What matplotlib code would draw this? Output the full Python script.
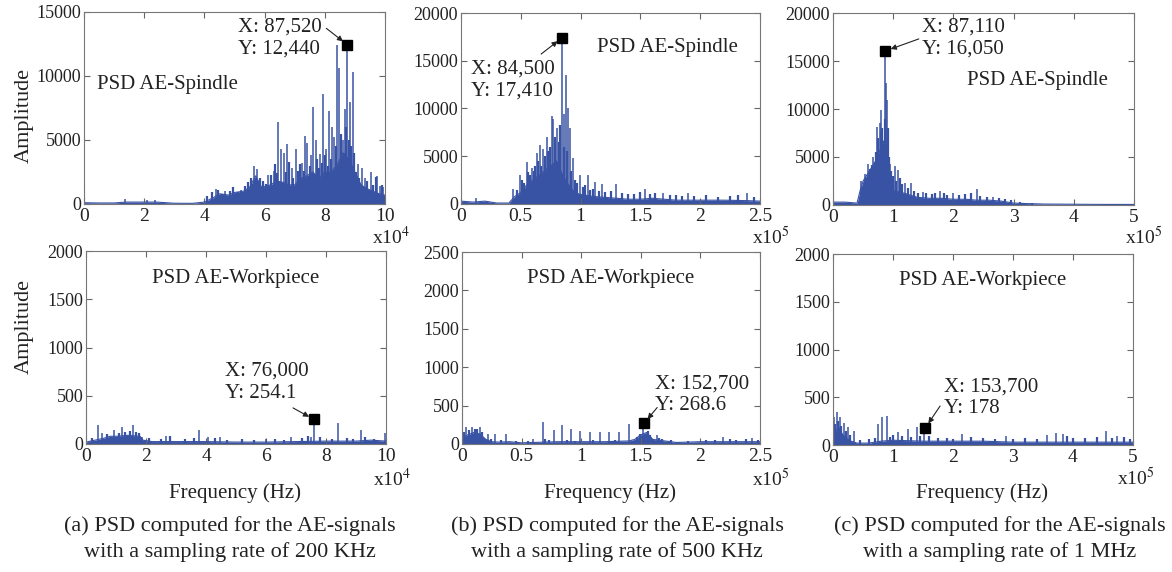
import matplotlib
matplotlib.use("Agg")
import matplotlib.pyplot as plt

plt.rcParams['font.family'] = ['Liberation Serif', 'DejaVu Serif']
plt.rcParams['mathtext.fontset'] = 'stix'

BLUE = '#3953a4'
LIGHT = '#a9b8de'
INK = '#222222'

# ---- (a) 200 KHz, spindle ----
a_top_floor_f = [0, 5000, 10000, 14000, 20000, 24000, 30000, 36000, 40000, 43000, 45000, 48000,
                 50000, 53000, 55000, 57000, 59000, 62000, 64000, 66000, 68000, 70000, 72000,
                 74000, 76000, 78000, 80000, 82000, 84000, 86000, 88000, 90000, 92000, 94000,
                 96000, 98000, 100000]
a_top_floor_a = [100, 80, 80, 150, 150, 150, 60, 50, 150, 500, 800, 700,
                 900, 1000, 1300, 2200, 1300, 1500, 1800, 1700, 1500, 1500, 2000,
                 2200, 2500, 2000, 2500, 2500, 3000, 4000, 3500, 2500, 1500, 1200,
                 1000, 800, 700]
a_top_spk_f = [13500, 21000, 23500, 44000, 47000, 52000, 56500, 57500, 61000, 63000, 64600,
               65500, 66300, 67500, 69000, 70500, 72500, 73500, 74200, 75500, 76200, 77000,
               78500, 79500, 80500, 81500, 82500, 83200, 84100, 84700, 86000, 86800, 87520,
               88300, 89400, 91000, 92500, 93500, 95500, 97500, 98500, 99500]
a_top_spk_a = [400, 350, 300, 1200, 1000, 1100, 3000, 2700, 2300, 2600, 6400,
               4300, 4000, 4700, 2800, 4300, 3200, 5300, 4800, 3800, 7600, 5000,
               3900, 8600, 4300, 7300, 6000, 5200, 12400, 10600, 5000, 7400, 12100,
               8000, 10300, 3100, 2800, 2000, 2500, 2200, 1400, 1300]
a_top_minor_f = [41000, 42500, 44500, 46000, 48500, 49500, 51000, 53500, 54500, 55500, 58500,
                 59500, 60500, 62000, 63500, 64000, 67000, 68000, 69500, 71000, 71700, 72000,
                 73000, 75000, 77500, 78000, 79000, 80000, 81000, 82000, 83700, 85300, 86300,
                 87000, 88000, 88800, 89800, 90500, 91500, 94000, 96000, 97000, 99000]
a_top_minor_a = [600, 900, 1100, 800, 1000, 1300, 900, 1400, 1700, 2000, 2000,
                 1800, 1600, 2300, 3100, 2400, 2500, 3300, 2000, 2600, 3100, 2000,
                 2600, 3000, 3500, 2800, 3200, 3800, 3000, 3500, 4500, 5500, 4000,
                 6000, 5000, 4500, 4000, 2500, 2000, 1800, 1500, 2100, 1500]

# ---- (b) 500 KHz, spindle ----
b_top_floor_f = [0, 10000, 20000, 30000, 40000, 45000, 50000, 55000, 60000, 65000, 70000, 75000,
                 80000, 85000, 90000, 95000, 100000, 110000, 120000, 130000, 140000, 150000,
                 160000, 170000, 180000, 200000, 220000, 240000, 250000]
b_top_floor_a = [300, 200, 300, 100, 100, 800, 1200, 2000, 2500, 3000, 3500, 4000,
                 4500, 3000, 2000, 1200, 1000, 800, 700, 600, 500, 500,
                 600, 500, 400, 400, 400, 350, 300]
b_top_spk_f = [12500, 43800, 49300, 54900, 59000, 63300, 66000, 68800, 71600, 75800, 77200,
               80000, 84500, 85800, 87800, 89700, 91200, 93900, 99500, 106500, 112000,
               117600, 130000, 153800, 169200, 190000, 238800]
b_top_spk_a = [600, 1600, 3000, 4400, 3800, 5300, 6200, 5800, 7000, 9200, 8900,
               8000, 16900, 9400, 13500, 10100, 8000, 4800, 3000, 3000, 2300,
               2100, 2100, 1600, 1200, 1100, 1100]
b_top_minor_f = [47000, 51000, 52500, 56000, 57500, 61000, 62000, 64500, 67000, 70000, 72500,
                 74000, 78500, 82000, 83000, 86500, 88500, 92000, 95000, 97000, 102000, 104000,
                 108000, 110000, 115000, 120000, 125000, 135000, 140000, 145000, 150000, 158000,
                 162000, 175000, 180000, 185000, 195000, 205000, 215000, 225000, 232000, 245000]
b_top_minor_a = [1500, 2500, 2200, 3300, 3000, 3500, 4000, 4500, 4000, 5000, 5500,
                 6000, 7000, 6500, 8300, 6000, 5500, 3500, 2500, 2200, 1800, 2000,
                 1500, 1600, 1400, 1300, 1400, 1200, 1000, 1000, 1300, 1000,
                 1100, 900, 900, 800, 800, 900, 700, 800, 900, 700]

# ---- (c) 1 MHz, spindle ----
c_top_floor_f = [0, 20000, 40000, 45000, 50000, 60000, 70000, 80000, 87000, 90000, 95000,
                 100000, 120000, 140000, 160000, 180000, 200000, 220000, 240000, 260000,
                 280000, 300000, 320000, 350000, 400000, 450000, 500000]
c_top_floor_a = [300, 300, 200, 1500, 2500, 3500, 4500, 6000, 7000, 4000, 2000,
                 1500, 1200, 800, 700, 700, 600, 600, 500, 500,
                 400, 200, 150, 100, 80, 60, 60]
c_top_spk_f = [47100, 52700, 58200, 66500, 73200, 77600, 80400, 84300, 87110, 87600, 89800,
               94200, 102600, 108100, 119200, 130300, 149700, 177400, 199600, 238400, 266000]
c_top_spk_a = [2500, 3200, 4300, 5000, 8100, 8500, 9900, 6700, 15600, 12700, 10900,
               4300, 4100, 3600, 2300, 2300, 1400, 1500, 1200, 1700, 800]
c_top_minor_f = [48000, 55000, 62000, 64000, 69000, 71000, 75000, 79000, 82000, 86000, 91000,
                 93000, 97000, 100000, 105000, 111000, 115000, 125000, 135000, 142000, 155000,
                 165000, 170000, 185000, 190000, 210000, 220000, 230000, 245000, 255000, 275000,
                 285000, 295000, 310000, 330000]
c_top_minor_a = [1800, 2800, 3800, 4200, 4500, 5500, 7000, 7500, 8000, 9000, 8000,
                 5000, 3500, 3000, 2500, 2800, 2200, 1800, 1500, 1300, 1200,
                 1100, 1300, 1200, 1000, 1000, 1100, 1300, 900, 800, 700,
                 600, 500, 300, 250]

# ---- workpiece ----
a_bot_floor_f = [0, 3000, 6000, 8000, 10000, 14000, 18000, 19000, 22000, 30000, 40000, 50000,
                 60000, 70000, 80000, 90000, 95000, 100000]
a_bot_floor_a = [20, 40, 60, 80, 80, 90, 80, 40, 25, 25, 25, 20, 20, 25, 30, 30, 40, 30]
a_bot_spk_f = [3900, 5400, 9300, 12000, 15700, 18750, 26600, 37500, 40500, 44800, 60000,
               68400, 75000, 76000, 84000, 91800, 99700]
a_bot_spk_a = [197, 117, 145, 180, 197, 76, 83, 145, 76, 70, 48,
               76, 69, 197, 220, 145, 110]
a_bot_minor_f = [2000, 7000, 11000, 13000, 14500, 16500, 17500, 21000, 25000, 28000, 33000,
                 36000, 43000, 47000, 52000, 56000, 63000, 66000, 72000, 74000, 78000, 82000,
                 87000, 89000, 93000, 96000]
a_bot_minor_a = [60, 100, 110, 120, 130, 120, 110, 60, 50, 80, 50,
                 60, 60, 45, 50, 45, 50, 45, 60, 80, 70, 55,
                 60, 50, 70, 55]

b_bot_floor_f = [0, 5000, 10000, 15000, 20000, 25000, 30000, 40000, 50000, 60000, 80000, 100000,
                 120000, 140000, 145000, 150000, 155000, 160000, 170000, 180000, 200000, 250000]
b_bot_floor_a = [80, 120, 150, 130, 60, 30, 25, 30, 15, 20, 30, 30,
                 30, 40, 60, 120, 150, 60, 40, 20, 30, 30]
b_bot_spk_f = [3600, 8400, 15400, 21500, 28000, 37200, 59600, 67900, 76800, 83800, 91600,
               99200, 107000, 115400, 123700, 131600, 139700, 152200, 163500, 219000, 243000]
b_bot_spk_a = [226, 226, 226, 130, 130, 130, 60, 292, 183, 248, 200,
               174, 161, 161, 161, 161, 261, 196, 118, 96, 75]
b_bot_minor_f = [2000, 6000, 11000, 13000, 17000, 24000, 33000, 45000, 55000, 70000, 73000,
                 88000, 95000, 110000, 128000, 147000, 149000, 156000, 158000, 165000, 168000,
                 175000, 190000, 205000, 212000, 225000, 230000, 238000, 248000]
b_bot_minor_a = [150, 180, 200, 190, 150, 60, 50, 40, 40, 60, 50,
                 50, 45, 50, 50, 90, 130, 170, 120, 80, 70,
                 50, 40, 50, 55, 60, 50, 60, 50]

c_bot_floor_f = [0, 5000, 10000, 15000, 20000, 30000, 40000, 60000, 80000, 100000, 150000,
                 200000, 250000, 300000, 400000, 500000]
c_bot_floor_a = [100, 150, 180, 120, 80, 40, 20, 20, 40, 50, 40, 40, 40, 30, 30, 30]
c_bot_spk_f = [1700, 6700, 11100, 17800, 25000, 34500, 75200, 81800, 90800, 108600, 124200,
               139200, 151400, 215000, 289000, 356000, 371900, 384000, 455400, 473000]
c_bot_spk_a = [297, 350, 297, 234, 185, 150, 220, 297, 304, 140, 164,
               192, 122, 115, 94, 100, 122, 110, 147, 94]
c_bot_minor_f = [3000, 8000, 13000, 21000, 28000, 45000, 60000, 70000, 95000, 100000, 115000,
                 130000, 145000, 160000, 175000, 190000, 200000, 230000, 250000, 270000, 300000,
                 320000, 340000, 390000, 400000, 420000, 440000, 465000, 485000, 495000]
c_bot_minor_a = [220, 250, 200, 150, 100, 50, 60, 70, 80, 100, 90,
                 80, 90, 90, 70, 70, 60, 80, 70, 60, 60,
                 70, 60, 90, 70, 70, 80, 70, 80, 60]

# first-bin leakage at 0 Hz (drawn pale)
dc_top = [1500, 2000, 1600]
dc_bot = [1600, 2100, 1600]

x_max = [100000, 250000, 500000]
x_scale = [1e4, 1e5, 1e5]
x_exp = [4, 5, 5]
x_ticks = [[0, 2, 4, 6, 8, 10], [0, 0.5, 1, 1.5, 2, 2.5], [0, 1, 2, 3, 4, 5]]
x_ticklabels = [['0', '2', '4', '6', '8', '10'], ['0', '0.5', '1', '1.5', '2', '2.5'],
                ['0', '1', '2', '3', '4', '5']]
y_top_max = [15000, 20000, 20000]
y_top_ticks = [[0, 5000, 10000, 15000], [0, 5000, 10000, 15000, 20000], [0, 5000, 10000, 15000, 20000]]
y_bot_max = [2000, 2500, 2000]
y_bot_ticks = [[0, 500, 1000, 1500, 2000], [0, 500, 1000, 1500, 2000, 2500], [0, 500, 1000, 1500, 2000]]

top_marker = [(87520, 12440), (84500, 17410), (87110, 16050)]
top_marker_txt = ['X: 87,520\nY: 12,440', 'X: 84,500\nY: 17,410', 'X: 87,110\nY: 16,050']
bot_marker = [(76000, 254.1), (152700, 268.6), (153700, 178)]
bot_marker_txt = ['X: 76,000\nY: 254.1', 'X: 152,700\nY: 268.6', 'X: 153,700\nY: 178']

captions = ['(a) PSD computed for the AE-signals\nwith a sampling rate of 200 KHz',
            '(b) PSD computed for the AE-signals\nwith a sampling rate of 500 KHz',
            '(c) PSD computed for the AE-signals\nwith a sampling rate of 1 MHz']

top_data = [(a_top_floor_f, a_top_floor_a, a_top_spk_f, a_top_spk_a, a_top_minor_f, a_top_minor_a),
            (b_top_floor_f, b_top_floor_a, b_top_spk_f, b_top_spk_a, b_top_minor_f, b_top_minor_a),
            (c_top_floor_f, c_top_floor_a, c_top_spk_f, c_top_spk_a, c_top_minor_f, c_top_minor_a)]
bot_data = [(a_bot_floor_f, a_bot_floor_a, a_bot_spk_f, a_bot_spk_a, a_bot_minor_f, a_bot_minor_a),
            (b_bot_floor_f, b_bot_floor_a, b_bot_spk_f, b_bot_spk_a, b_bot_minor_f, b_bot_minor_a),
            (c_bot_floor_f, c_bot_floor_a, c_bot_spk_f, c_bot_spk_a, c_bot_minor_f, c_bot_minor_a)]

W, H = 1172, 572
fig = plt.figure(figsize=(W / 100, H / 100), dpi=100)

# axes boxes in pixels: left, top, right, bottom
top_boxes = [(84, 12, 385, 204), (461, 13, 760, 204), (833, 13, 1134, 205)]
bot_boxes = [(86, 251, 386, 444), (462, 252, 760, 444), (833, 254, 1133, 445)]

# layout of texts in axes fractions
top_txt_pos = [(0.51, 0.865), (0.033, 0.65), (0.296, 0.87)]
top_tail = [(0.805, 0.915), (0.268, 0.785), (0.285, 0.865)]
top_title_pos = [(0.043, 0.62), (0.455, 0.817), (0.445, 0.65)]
bot_txt_pos = [(0.463, 0.32), (0.648, 0.255), (0.37, 0.246)]
bot_tail = [(0.69, 0.187), (0.655, 0.19), (0.357, 0.204)]
mult_pos_top = [(372, 237), (752, 237), (1125, 237)]
mult_pos_bot = [(373, 479), (752, 479), (1117, 478)]


def make_ax(box):
    l, t, r, b = box
    return fig.add_axes([l / W, 1 - b / H, (r - l) / W, (b - t) / H])


def style(ax, i, ymax, yticks):
    ax.set_xlim(0, x_max[i])
    ax.set_ylim(0, ymax)
    ax.set_xticks([v * x_scale[i] for v in x_ticks[i]])
    ax.set_xticklabels(x_ticklabels[i])
    ax.set_yticks(yticks)
    ax.set_yticklabels([str(v) for v in yticks])
    ax.tick_params(direction='in', top=True, right=True, length=4, width=0.8,
                   labelsize=13, colors='#666666', labelcolor=INK, pad=2)
    ax.tick_params(axis='x', labelsize=14, pad=3)
    for s in ax.spines.values():
        s.set_color('#777777')
        s.set_linewidth(0.8)


def draw_spec(ax, data, dc):
    ff, fa, sf, sa, mf, ma = data
    ax.fill_between(ff, 0, fa, color=BLUE, lw=0)
    ax.plot(ff, fa, color=BLUE, lw=0.8)
    ax.vlines(mf, 0, ma, color=BLUE, lw=1.6)
    ax.vlines(sf, 0, sa, color=BLUE, lw=1.1)
    ax.vlines([0], 0, [dc], color=LIGHT, lw=1.5)


def mark(ax, xy, txt, txt_pos, tail):
    ax.plot([xy[0]], [xy[1]], 's', color='black', ms=6.5)
    ax.text(*txt_pos, txt, transform=ax.transAxes, fontsize=15,
            ha='left', va='center', color=INK, linespacing=1.2)
    ax.annotate('', xy=xy, xytext=tail, textcoords='axes fraction',
                arrowprops=dict(arrowstyle='-|>', color=INK, lw=0.8,
                                mutation_scale=8, shrinkA=0, shrinkB=4))


for i in range(3):
    ax = make_ax(top_boxes[i])
    draw_spec(ax, top_data[i], dc_top[i])
    style(ax, i, y_top_max[i], y_top_ticks[i])
    mark(ax, top_marker[i], top_marker_txt[i], top_txt_pos[i], top_tail[i])
    ax.text(*top_title_pos[i], 'PSD AE-Spindle', transform=ax.transAxes, fontsize=15,
            ha='left', va='center', color=INK)
    if i == 0:
        ax.set_ylabel('Amplitude', fontsize=16, color=INK)
        ax.yaxis.set_label_coords(-0.2, 0.46)
        ax.yaxis.label.set_va('center')
    fig.text(mult_pos_top[i][0] / W, 1 - mult_pos_top[i][1] / H, r'x10$^{%d}$' % x_exp[i],
             fontsize=14, color=INK, ha='left', va='center')

for i in range(3):
    ax = make_ax(bot_boxes[i])
    draw_spec(ax, bot_data[i], dc_bot[i])
    style(ax, i, y_bot_max[i], y_bot_ticks[i])
    mark(ax, bot_marker[i], bot_marker_txt[i], bot_txt_pos[i], bot_tail[i])
    ax.text(0.5, 0.86, 'PSD AE-Workpiece', transform=ax.transAxes, fontsize=15,
            ha='center', va='center', color=INK)
    if i == 0:
        ax.set_ylabel('Amplitude', fontsize=16, color=INK)
        ax.yaxis.set_label_coords(-0.207, 0.61)
        ax.yaxis.label.set_va('center')
    ax.set_xlabel('Frequency (Hz)', fontsize=15, color=INK)
    ax.xaxis.set_label_coords(0.497, -(493 - bot_boxes[i][3]) / (bot_boxes[i][3] - bot_boxes[i][1]))
    ax.xaxis.label.set_va('center')
    fig.text(mult_pos_bot[i][0] / W, 1 - mult_pos_bot[i][1] / H, r'x10$^{%d}$' % x_exp[i],
             fontsize=14, color=INK, ha='left', va='center')

cap_x = [230, 617, 1000]
for i in range(3):
    fig.text(cap_x[i] / W, 1 - 539 / H, captions[i], fontsize=16, ha='center', va='center',
             color=INK, linespacing=1.35)

fig.savefig('out.png', dpi=100, facecolor='white')
